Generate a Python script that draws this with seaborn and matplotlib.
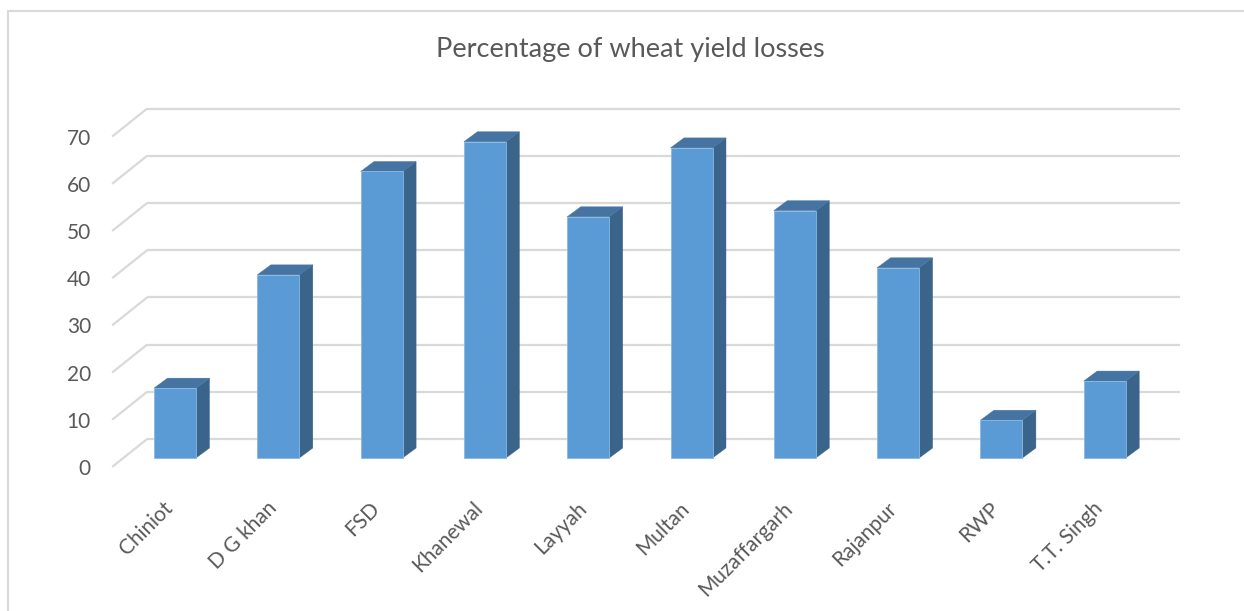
import numpy as np
import pandas as pd
import matplotlib
matplotlib.use("Agg")
import matplotlib.pyplot as plt
import seaborn as sns
from matplotlib.patches import Polygon
from matplotlib.transforms import ScaledTranslation

# ---- data ----
categories = ["Chiniot", "D G khan", "FSD", "Khanewal", "Layyah", "Multan",
              "Muzaffargarh", "Rajanpur", "RWP", "T.T. Singh"]
values = [14.8, 38.8, 60.7, 67.0, 51.1, 65.7, 52.4, 40.3, 8.0, 16.3]
y_ticks = [0, 10, 20, 30, 40, 50, 60, 70]
y_tick_labels = ["0", "10", "20", "30", "40", "50", "60", "70"]
title = "Percentage of wheat yield losses"

# ---- style ----
sns.set_theme(style="white")
plt.rcParams["font.family"] = ["Lato", "DejaVu Sans"]
TXT = "#595959"
FRONT = "#5b9bd5"
SIDE = "#3a6489"
TOP = "#4574a2"
GRID = "#d9d9d9"

W, H, DPI = 1244, 611, 100
fig = plt.figure(figsize=(W / DPI, H / DPI), dpi=DPI)
fig.patch.set_facecolor("white")

# axes box in pixels
L, R, T, B = 100, 1200, 90, 480
ax = fig.add_axes([L / W, 1 - B / H, (R - L) / W, (B - T) / H])
PXC = 103.3   # px per category
PXV = 4.72    # px per value unit
X0 = 175      # px of category 0 (bar front plane)
Y0 = 458      # px of value 0 (bar front plane)

# depth offsets (data units) relative to the bar front plane
full_dx, full_dy = 35 / PXC, 28 / PXV
f_front, f_back = -0.32, 0.68
bdx, bdy = 13.5 / PXC, 10 / PXV   # bar depth

n = len(categories)
xl, xr = -0.5, n - 0.5
for v in y_ticks:
    ax.plot([xl + f_back * full_dx, xr + f_back * full_dx],
            [v + f_back * full_dy, v + f_back * full_dy],
            color=GRID, lw=1.6, zorder=1, solid_capstyle="butt")
    ax.plot([xl + f_front * full_dx, xl + f_back * full_dx],
            [v + f_front * full_dy, v + f_back * full_dy],
            color=GRID, lw=1.6, zorder=1, solid_capstyle="butt")

df = pd.DataFrame({"district": categories, "loss": values})
sns.barplot(data=df, x="district", y="loss", color=FRONT, saturation=1,
            width=42 / PXC, ax=ax, zorder=3, edgecolor="#8ab8e3", linewidth=0.6)

for p in list(ax.patches):
    x, y = p.get_x(), p.get_y()
    w, h = p.get_width(), p.get_height()
    side = Polygon([(x + w, y), (x + w + bdx, y + bdy), (x + w + bdx, y + h + bdy),
                    (x + w, y + h)], closed=True, facecolor=SIDE, edgecolor=SIDE,
                   lw=0.3, zorder=2.9)
    top = Polygon([(x, y + h), (x + bdx, y + h + bdy), (x + w + bdx, y + h + bdy),
                   (x + w, y + h)], closed=True, facecolor=TOP, edgecolor=TOP,
                  lw=0.3, zorder=2.9)
    ax.add_patch(side)
    ax.add_patch(top)

ax.set_xlim((L - X0) / PXC, (R - X0) / PXC)
ax.set_ylim((Y0 - B) / PXV, (Y0 - T) / PXV)

for s in ax.spines.values():
    s.set_visible(False)
ax.set_xlabel("")
ax.set_ylabel("")
ax.grid(False)

# y ticks
ax.set_yticks(y_ticks)
ax.set_yticklabels(y_tick_labels, fontsize=15, color=TXT)
ax.tick_params(axis="y", length=0, pad=6.5)
dy_off = ScaledTranslation(0, -9 / DPI, fig.dpi_scale_trans)
for lab in ax.get_yticklabels():
    lab.set_transform(lab.get_transform() + dy_off)

# x ticks
ax.set_xticks(range(n))
ax.set_xticklabels(categories, fontsize=15, color=TXT, rotation=45,
                   ha="right", va="top", rotation_mode="anchor")
ax.tick_params(axis="x", length=0, pad=13)
dx_off = ScaledTranslation(-12 / DPI, 0, fig.dpi_scale_trans)
for lab in ax.get_xticklabels():
    lab.set_transform(lab.get_transform() + dx_off)

fig.text(630 / W, 1 - 50 / H, title, ha="center", va="center", fontsize=19.5, color=TXT)

# chart border
fig.add_artist(plt.Line2D([8 / W, 8 / W], [0, 1 - 11 / H], transform=fig.transFigure,
                          color="#d9d9d9", lw=1.5))
fig.add_artist(plt.Line2D([8 / W, 1], [1 - 11 / H, 1 - 11 / H], transform=fig.transFigure,
                          color="#d9d9d9", lw=1.5))

fig.savefig("out.png", dpi=DPI, facecolor="white")
